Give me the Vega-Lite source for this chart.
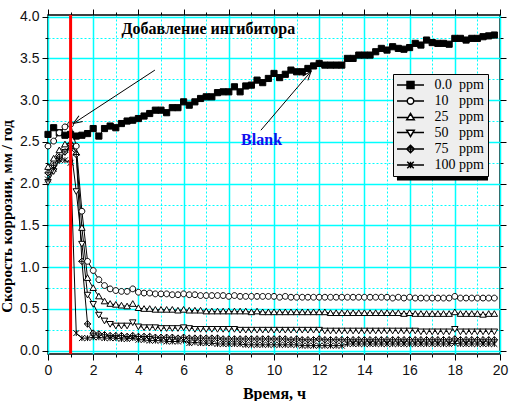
{
  "$schema": "https://vega.github.io/schema/vega-lite/v6.json",
  "width": 452,
  "height": 339,
  "autosize": "none",
  "padding": {"left": 48, "top": 15, "right": 10, "bottom": 47},
  "background": "white",
  "config": {
    "view": {"stroke": "black", "strokeWidth": 1.5},
    "axis": {
      "labelFont": "Liberation Sans",
      "labelFontSize": 14,
      "labelColor": "#111111",
      "titleFont": "Liberation Serif",
      "titleFontWeight": "bold",
      "titleFontSize": 16,
      "titleColor": "black",
      "tickColor": "black",
      "tickWidth": 1,
      "domain": false
    },
    "legend": {
      "title": null,
      "orient": "none",
      "legendX": 345,
      "legendY": 59,
      "fillColor": "#eeeeee",
      "strokeColor": "black",
      "padding": 4,
      "symbolSize": 100,
      "symbolOffset": 6.5,
      "labelFont": "Liberation Serif",
      "labelFontSize": 14,
      "labelColor": "black",
      "labelOffset": 17,
      "rowPadding": 2
    }
  },
  "datasets": {
    "curves": [
      {"t": 0, "p000": 2.59, "p010": 2.45, "p025": 2.20, "p050": 2.02, "p075": 2.13, "p100": 2.05},
      {"t": 0.25, "p000": 2.67, "p010": 2.51, "p025": 2.30, "p050": 2.15, "p075": 2.22, "p100": 2.18},
      {"t": 0.5, "p000": 2.61, "p010": 2.61, "p025": 2.40, "p050": 2.28, "p075": 2.32, "p100": 2.29},
      {"t": 0.75, "p000": 2.58, "p010": 2.68, "p025": 2.47, "p050": 2.38, "p075": 2.38, "p100": 2.28},
      {"t": 1, "p000": 2.59, "p010": 2.71, "p025": 2.49, "p050": 2.45, "p075": 2.42, "p100": 2.25},
      {"t": 1.25, "p000": 2.57, "p010": 2.45, "p025": 2.37, "p050": 1.91, "p075": 2.35, "p100": 0.21},
      {"t": 1.5, "p000": 2.58, "p010": 1.67, "p025": 1.47, "p050": 1.28, "p075": 1.07, "p100": 0.15},
      {"t": 1.75, "p000": 2.60, "p010": 1.07, "p025": 0.87, "p050": 0.67, "p075": 0.32, "p100": 0.15},
      {"t": 2, "p000": 2.66, "p010": 0.96, "p025": 0.75, "p050": 0.56, "p075": 0.21, "p100": 0.16},
      {"t": 2.25, "p000": 2.57, "p010": 0.85, "p025": 0.65, "p050": 0.43, "p075": 0.20, "p100": 0.16},
      {"t": 2.5, "p000": 2.66, "p010": 0.78, "p025": 0.59, "p050": 0.36, "p075": 0.19, "p100": 0.15},
      {"t": 2.75, "p000": 2.69, "p010": 0.74, "p025": 0.56, "p050": 0.32, "p075": 0.18, "p100": 0.15},
      {"t": 3, "p000": 2.67, "p010": 0.72, "p025": 0.55, "p050": 0.30, "p075": 0.18, "p100": 0.15},
      {"t": 3.25, "p000": 2.72, "p010": 0.71, "p025": 0.54, "p050": 0.30, "p075": 0.18, "p100": 0.14},
      {"t": 3.5, "p000": 2.75, "p010": 0.71, "p025": 0.53, "p050": 0.30, "p075": 0.17, "p100": 0.14},
      {"t": 3.75, "p000": 2.76, "p010": 0.74, "p025": 0.56, "p050": 0.34, "p075": 0.18, "p100": 0.15},
      {"t": 4, "p000": 2.78, "p010": 0.70, "p025": 0.51, "p050": 0.29, "p075": 0.17, "p100": 0.13},
      {"t": 4.25, "p000": 2.81, "p010": 0.69, "p025": 0.50, "p050": 0.28, "p075": 0.17, "p100": 0.13},
      {"t": 4.5, "p000": 2.84, "p010": 0.69, "p025": 0.50, "p050": 0.28, "p075": 0.17, "p100": 0.12},
      {"t": 4.75, "p000": 2.88, "p010": 0.68, "p025": 0.49, "p050": 0.28, "p075": 0.16, "p100": 0.12},
      {"t": 5, "p000": 2.88, "p010": 0.68, "p025": 0.49, "p050": 0.27, "p075": 0.16, "p100": 0.12},
      {"t": 5.25, "p000": 2.85, "p010": 0.68, "p025": 0.49, "p050": 0.27, "p075": 0.16, "p100": 0.11},
      {"t": 5.5, "p000": 2.91, "p010": 0.67, "p025": 0.49, "p050": 0.27, "p075": 0.16, "p100": 0.11},
      {"t": 5.75, "p000": 2.91, "p010": 0.67, "p025": 0.48, "p050": 0.27, "p075": 0.15, "p100": 0.11},
      {"t": 6, "p000": 2.98, "p010": 0.68, "p025": 0.49, "p050": 0.28, "p075": 0.16, "p100": 0.12},
      {"t": 6.25, "p000": 2.94, "p010": 0.67, "p025": 0.48, "p050": 0.27, "p075": 0.15, "p100": 0.09},
      {"t": 6.5, "p000": 2.98, "p010": 0.67, "p025": 0.48, "p050": 0.26, "p075": 0.15, "p100": 0.10},
      {"t": 6.75, "p000": 3.02, "p010": 0.66, "p025": 0.48, "p050": 0.26, "p075": 0.15, "p100": 0.09},
      {"t": 7, "p000": 3.04, "p010": 0.66, "p025": 0.47, "p050": 0.26, "p075": 0.15, "p100": 0.09},
      {"t": 7.25, "p000": 3.04, "p010": 0.66, "p025": 0.47, "p050": 0.26, "p075": 0.15, "p100": 0.09},
      {"t": 7.5, "p000": 3.09, "p010": 0.66, "p025": 0.47, "p050": 0.26, "p075": 0.15, "p100": 0.08},
      {"t": 7.75, "p000": 3.10, "p010": 0.66, "p025": 0.47, "p050": 0.26, "p075": 0.14, "p100": 0.08},
      {"t": 8, "p000": 3.10, "p010": 0.65, "p025": 0.47, "p050": 0.26, "p075": 0.14, "p100": 0.08},
      {"t": 8.25, "p000": 3.16, "p010": 0.66, "p025": 0.47, "p050": 0.26, "p075": 0.14, "p100": 0.08},
      {"t": 8.5, "p000": 3.10, "p010": 0.65, "p025": 0.47, "p050": 0.25, "p075": 0.14, "p100": 0.08},
      {"t": 8.75, "p000": 3.17, "p010": 0.65, "p025": 0.47, "p050": 0.25, "p075": 0.14, "p100": 0.07},
      {"t": 9, "p000": 3.18, "p010": 0.65, "p025": 0.46, "p050": 0.25, "p075": 0.14, "p100": 0.07},
      {"t": 9.25, "p000": 3.24, "p010": 0.65, "p025": 0.47, "p050": 0.25, "p075": 0.14, "p100": 0.07},
      {"t": 9.5, "p000": 3.21, "p010": 0.65, "p025": 0.46, "p050": 0.25, "p075": 0.14, "p100": 0.07},
      {"t": 9.75, "p000": 3.26, "p010": 0.65, "p025": 0.46, "p050": 0.25, "p075": 0.14, "p100": 0.07},
      {"t": 10, "p000": 3.32, "p010": 0.65, "p025": 0.46, "p050": 0.25, "p075": 0.14, "p100": 0.07},
      {"t": 10.25, "p000": 3.27, "p010": 0.64, "p025": 0.46, "p050": 0.25, "p075": 0.14, "p100": 0.07},
      {"t": 10.5, "p000": 3.31, "p010": 0.65, "p025": 0.46, "p050": 0.25, "p075": 0.14, "p100": 0.07},
      {"t": 10.75, "p000": 3.36, "p010": 0.64, "p025": 0.46, "p050": 0.25, "p075": 0.13, "p100": 0.07},
      {"t": 11, "p000": 3.34, "p010": 0.64, "p025": 0.46, "p050": 0.25, "p075": 0.14, "p100": 0.07},
      {"t": 11.25, "p000": 3.34, "p010": 0.64, "p025": 0.46, "p050": 0.25, "p075": 0.13, "p100": 0.06},
      {"t": 11.5, "p000": 3.38, "p010": 0.64, "p025": 0.46, "p050": 0.25, "p075": 0.13, "p100": 0.06},
      {"t": 11.75, "p000": 3.41, "p010": 0.64, "p025": 0.46, "p050": 0.25, "p075": 0.13, "p100": 0.06},
      {"t": 12, "p000": 3.44, "p010": 0.64, "p025": 0.46, "p050": 0.25, "p075": 0.14, "p100": 0.06},
      {"t": 12.25, "p000": 3.42, "p010": 0.64, "p025": 0.46, "p050": 0.24, "p075": 0.13, "p100": 0.06},
      {"t": 12.5, "p000": 3.42, "p010": 0.64, "p025": 0.45, "p050": 0.24, "p075": 0.13, "p100": 0.06},
      {"t": 12.75, "p000": 3.42, "p010": 0.64, "p025": 0.45, "p050": 0.24, "p075": 0.13, "p100": 0.06},
      {"t": 13, "p000": 3.42, "p010": 0.64, "p025": 0.45, "p050": 0.24, "p075": 0.13, "p100": 0.06},
      {"t": 13.25, "p000": 3.50, "p010": 0.64, "p025": 0.45, "p050": 0.24, "p075": 0.13, "p100": 0.08},
      {"t": 13.5, "p000": 3.50, "p010": 0.64, "p025": 0.45, "p050": 0.24, "p075": 0.13, "p100": 0.08},
      {"t": 13.75, "p000": 3.54, "p010": 0.64, "p025": 0.45, "p050": 0.24, "p075": 0.13, "p100": 0.08},
      {"t": 14, "p000": 3.54, "p010": 0.64, "p025": 0.45, "p050": 0.24, "p075": 0.13, "p100": 0.08},
      {"t": 14.25, "p000": 3.54, "p010": 0.64, "p025": 0.45, "p050": 0.24, "p075": 0.13, "p100": 0.08},
      {"t": 14.5, "p000": 3.58, "p010": 0.64, "p025": 0.45, "p050": 0.24, "p075": 0.13, "p100": 0.08},
      {"t": 14.75, "p000": 3.62, "p010": 0.64, "p025": 0.45, "p050": 0.24, "p075": 0.13, "p100": 0.08},
      {"t": 15, "p000": 3.60, "p010": 0.64, "p025": 0.45, "p050": 0.24, "p075": 0.13, "p100": 0.08},
      {"t": 15.25, "p000": 3.64, "p010": 0.63, "p025": 0.45, "p050": 0.24, "p075": 0.13, "p100": 0.08},
      {"t": 15.5, "p000": 3.62, "p010": 0.64, "p025": 0.45, "p050": 0.24, "p075": 0.13, "p100": 0.08},
      {"t": 15.75, "p000": 3.61, "p010": 0.63, "p025": 0.44, "p050": 0.24, "p075": 0.13, "p100": 0.08},
      {"t": 16, "p000": 3.63, "p010": 0.64, "p025": 0.45, "p050": 0.24, "p075": 0.13, "p100": 0.08},
      {"t": 16.25, "p000": 3.68, "p010": 0.63, "p025": 0.44, "p050": 0.24, "p075": 0.13, "p100": 0.08},
      {"t": 16.5, "p000": 3.66, "p010": 0.63, "p025": 0.44, "p050": 0.23, "p075": 0.13, "p100": 0.08},
      {"t": 16.75, "p000": 3.72, "p010": 0.63, "p025": 0.44, "p050": 0.23, "p075": 0.13, "p100": 0.08},
      {"t": 17, "p000": 3.69, "p010": 0.63, "p025": 0.44, "p050": 0.23, "p075": 0.13, "p100": 0.08},
      {"t": 17.25, "p000": 3.68, "p010": 0.63, "p025": 0.44, "p050": 0.23, "p075": 0.13, "p100": 0.08},
      {"t": 17.5, "p000": 3.68, "p010": 0.63, "p025": 0.44, "p050": 0.23, "p075": 0.13, "p100": 0.08},
      {"t": 17.75, "p000": 3.67, "p010": 0.63, "p025": 0.44, "p050": 0.23, "p075": 0.13, "p100": 0.08},
      {"t": 18, "p000": 3.74, "p010": 0.65, "p025": 0.46, "p050": 0.26, "p075": 0.14, "p100": 0.09},
      {"t": 18.25, "p000": 3.74, "p010": 0.63, "p025": 0.44, "p050": 0.23, "p075": 0.13, "p100": 0.08},
      {"t": 18.5, "p000": 3.72, "p010": 0.63, "p025": 0.44, "p050": 0.23, "p075": 0.13, "p100": 0.08},
      {"t": 18.75, "p000": 3.74, "p010": 0.63, "p025": 0.44, "p050": 0.23, "p075": 0.13, "p100": 0.08},
      {"t": 19, "p000": 3.74, "p010": 0.63, "p025": 0.44, "p050": 0.23, "p075": 0.13, "p100": 0.08},
      {"t": 19.25, "p000": 3.76, "p010": 0.63, "p025": 0.43, "p050": 0.23, "p075": 0.13, "p100": 0.08},
      {"t": 19.5, "p000": 3.77, "p010": 0.63, "p025": 0.44, "p050": 0.23, "p075": 0.13, "p100": 0.08},
      {"t": 19.75, "p000": 3.78, "p010": 0.63, "p025": 0.44, "p050": 0.23, "p075": 0.13, "p100": 0.08}
    ]
  },
  "resolve": {
    "scale": {"shape": "independent", "fill": "independent"},
    "axis": {"x": "independent", "y": "independent"}
  },
  "layer": [
    {
      "data": {"name": "curves"},
      "transform": [{"fold": ["p000", "p010", "p025", "p050", "p075", "p100"], "as": ["key", "v"]}],
      "mark": {"type": "line", "color": "black", "strokeWidth": 1},
      "encoding": {
        "x": {
          "field": "t", "type": "quantitative",
          "scale": {"domain": [0, 20], "nice": false, "zero": false},
          "axis": {
            "orient": "bottom",
            "title": "Время, ч",
            "titlePadding": 8,
            "values": [0, 1, 2, 3, 4, 5, 6, 7, 8, 9, 10, 11, 12, 13, 14, 15, 16, 17, 18, 19, 20],
            "labelExpr": "datum.value % 2 === 0 ? datum.label : ''",
            "labelPadding": 3,
            "labelFlush": false,
            "tickSize": {"condition": {"test": "datum.value % 2 === 0", "value": 6}, "value": 3},
            "grid": true,
            "gridColor": "#00ffff",
            "gridWidth": {"condition": {"test": "datum.value % 2 === 0", "value": 1.5}, "value": 1},
            "gridDash": {"condition": {"test": "datum.value % 2 === 0", "value": []}, "value": [2, 2]}
          }
        },
        "y": {
          "field": "v", "type": "quantitative",
          "scale": {"domain": [-0.04, 4.02], "nice": false, "zero": false},
          "axis": {
            "orient": "left",
            "title": "Скорость коррозии, мм / год",
            "titleFontSize": 15,
            "titleY": 201,
            "titlePadding": 5,
            "values": [0, 0.25, 0.5, 0.75, 1, 1.25, 1.5, 1.75, 2, 2.25, 2.5, 2.75, 3, 3.25, 3.5, 3.75, 4],
            "format": ".1f",
            "labelExpr": "datum.value % 0.5 === 0 ? datum.label : ''",
            "labelPadding": 3,
            "labelFlush": false,
            "tickSize": {"condition": {"test": "datum.value % 0.5 === 0", "value": 6}, "value": 3},
            "grid": true,
            "gridColor": "#00ffff",
            "gridWidth": {"condition": {"test": "datum.value % 0.5 === 0", "value": 1.5}, "value": 1},
            "gridDash": {"condition": {"test": "datum.value % 0.5 === 0", "value": []}, "value": [2, 2]}
          }
        },
        "detail": {"field": "key", "type": "nominal"}
      }
    },
    {
      "data": {"name": "curves"},
      "transform": [{"fold": ["p000", "p010", "p025", "p050", "p075", "p100"], "as": ["key", "v"]}],
      "mark": {"type": "point", "filled": true, "stroke": "black", "strokeWidth": 1, "opacity": 1, "size": 42},
      "encoding": {
        "x": {"field": "t", "type": "quantitative", "axis": null},
        "y": {"field": "v", "type": "quantitative", "axis": null},
        "fill": {
          "field": "key", "type": "nominal",
          "scale": {"domain": ["p000", "p010", "p025", "p050", "p075", "p100"], "range": ["black", "white", "white", "white", "white", "white"]},
          "legend": null
        },
        "shape": {
          "field": "key", "type": "nominal",
          "scale": {
            "domain": ["p000", "p010", "p025", "p050", "p075", "p100"],
            "range": [
              "M-0.95,-0.95H0.95V0.95H-0.95Z",
              "M0.9,0A0.9,0.9,0,1,1,-0.9,0A0.9,0.9,0,1,1,0.9,0Z",
              "M0,-1L1,0.75L-1,0.75Z",
              "M0,1L1,-0.75L-1,-0.75Z",
              "M0,-1L1,0L0,1L-1,0ZM0,-1L0,1M-1,0L1,0",
              "M-0.9,-0.9L0.9,0.9M0.9,-0.9L-0.9,0.9M0,-0.9L0,0.9"
            ]
          },
          "legend": null
        }
      }
    },
    {
      "data": {"values": [{}]},
      "mark": {"type": "rect", "color": "black"},
      "encoding": {
        "x": {"datum": 15.44, "type": "quantitative", "axis": null},
        "x2": {"datum": 19.47},
        "y": {"datum": 3.273, "type": "quantitative", "axis": null},
        "y2": {"datum": 2.038}
      }
    },
    {
      "data": {"name": "curves"},
      "transform": [{"fold": ["p000", "p010", "p025", "p050", "p075", "p100"], "as": ["key", "v"]}, {"filter": "false"}],
      "mark": {"type": "point", "filled": false, "stroke": "black", "strokeWidth": 1, "strokeOpacity": 1, "opacity": 1, "size": 100},
      "encoding": {
        "x": {"field": "t", "type": "quantitative", "axis": null},
        "y": {"field": "v", "type": "quantitative", "axis": null},
        "fill": {
          "field": "key", "type": "nominal",
          "scale": {"domain": ["p000", "p010", "p025", "p050", "p075", "p100"], "range": ["black", "white", "white", "white", "white", "white"]},
          "legend": {
            "labelExpr": "({'p000': '0.0\u00a0\u00a0ppm', 'p010': '10\u00a0\u00a0\u00a0ppm', 'p025': '25\u00a0\u00a0\u00a0ppm', 'p050': '50\u00a0\u00a0\u00a0ppm', 'p075': '75\u00a0\u00a0\u00a0ppm', 'p100': '100\u00a0ppm'})[datum.value]"
          }
        },
        "shape": {
          "field": "key", "type": "nominal",
          "scale": {
            "domain": ["p000", "p010", "p025", "p050", "p075", "p100"],
            "range": [
              "M-2.7,0H2.7M-0.7,-0.7H0.7V0.7H-0.7Z",
              "M-2.7,0H-0.65M0.65,0H2.7M0.65,0A0.65,0.65,0,1,1,-0.65,0A0.65,0.65,0,1,1,0.65,0Z",
              "M-2.7,0.1H-0.5M0.5,0.1H2.7M0,-0.7L0.75,0.55L-0.75,0.55Z",
              "M-2.7,-0.1H-0.5M0.5,-0.1H2.7M0,0.7L0.75,-0.55L-0.75,-0.55Z",
              "M-2.7,0H2.7M0,-0.75L0.75,0L0,0.75L-0.75,0ZM0,-0.75V0.75",
              "M-2.7,0H2.7M-0.65,-0.65L0.65,0.65M0.65,-0.65L-0.65,0.65M0,-0.65V0.65"
            ]
          },
          "legend": {
            "labelExpr": "({'p000': '0.0\u00a0\u00a0ppm', 'p010': '10\u00a0\u00a0\u00a0ppm', 'p025': '25\u00a0\u00a0\u00a0ppm', 'p050': '50\u00a0\u00a0\u00a0ppm', 'p075': '75\u00a0\u00a0\u00a0ppm', 'p100': '100\u00a0ppm'})[datum.value]"
          }
        }
      }
    },
    {
      "data": {"values": [{}]},
      "mark": {"type": "rule", "color": "#ff0000", "strokeWidth": 3},
      "encoding": {
        "x": {
          "datum": 1, "type": "quantitative",
          "axis": {
            "orient": "top", "title": null, "labels": false, "grid": false,
            "values": [0, 1, 2, 3, 4, 5, 6, 7, 8, 9, 10, 11, 12, 13, 14, 15, 16, 17, 18, 19, 20],
            "tickSize": {"condition": {"test": "datum.value % 2 === 0", "value": 6}, "value": 3}
          }
        },
        "y": {
          "datum": 4.02, "type": "quantitative",
          "axis": {
            "orient": "right", "title": null, "labels": false, "grid": false,
            "values": [0, 0.25, 0.5, 0.75, 1, 1.25, 1.5, 1.75, 2, 2.25, 2.5, 2.75, 3, 3.25, 3.5, 3.75, 4],
            "tickSize": {"condition": {"test": "datum.value % 0.5 === 0", "value": 6}, "value": 3}
          }
        },
        "y2": {"datum": -0.04}
      }
    },
    {
      "data": {"values": [{}]},
      "mark": {"type": "rule", "color": "black", "strokeWidth": 1},
      "encoding": {
        "x": {"datum": 4.73, "type": "quantitative", "axis": null},
        "y": {"datum": 3.36, "type": "quantitative", "axis": null},
        "x2": {"datum": 1.12},
        "y2": {"datum": 2.72}
      }
    },
    {
      "data": {"values": [{}]},
      "mark": {"type": "point", "filled": false, "stroke": "black", "strokeWidth": 1, "size": 81, "opacity": 1, "shape": "M-2,-0.75L0,0L-2,0.75", "angle": 146.9},
      "encoding": {
        "x": {"datum": 1.12, "type": "quantitative", "axis": null},
        "y": {"datum": 2.72, "type": "quantitative", "axis": null}
      }
    },
    {
      "data": {"values": [{}]},
      "mark": {"type": "rule", "color": "black", "strokeWidth": 1},
      "encoding": {
        "x": {"datum": 9.42, "type": "quantitative", "axis": null},
        "y": {"datum": 2.64, "type": "quantitative", "axis": null},
        "x2": {"datum": 11.64},
        "y2": {"datum": 3.345}
      }
    },
    {
      "data": {"values": [{}]},
      "mark": {"type": "point", "filled": false, "stroke": "black", "strokeWidth": 1, "size": 81, "opacity": 1, "shape": "M-2,-0.75L0,0L-2,0.75", "angle": 310.3},
      "encoding": {
        "x": {"datum": 11.64, "type": "quantitative", "axis": null},
        "y": {"datum": 3.345, "type": "quantitative", "axis": null}
      }
    },
    {
      "data": {"values": [{}]},
      "mark": {"type": "text", "text": "Добавление ингибитора", "font": "Liberation Serif", "fontWeight": "bold", "fontSize": 16, "color": "black", "align": "left", "baseline": "middle"},
      "encoding": {
        "x": {"datum": 3.25, "type": "quantitative", "axis": null},
        "y": {"datum": 3.85, "type": "quantitative", "axis": null}
      }
    },
    {
      "data": {"values": [{}]},
      "mark": {"type": "text", "text": "Blank", "font": "Liberation Serif", "fontWeight": "bold", "fontSize": 16, "color": "#1010ee", "align": "center", "baseline": "middle"},
      "encoding": {
        "x": {"datum": 9.45, "type": "quantitative", "axis": null},
        "y": {"datum": 2.52, "type": "quantitative", "axis": null}
      }
    }
  ]
}
